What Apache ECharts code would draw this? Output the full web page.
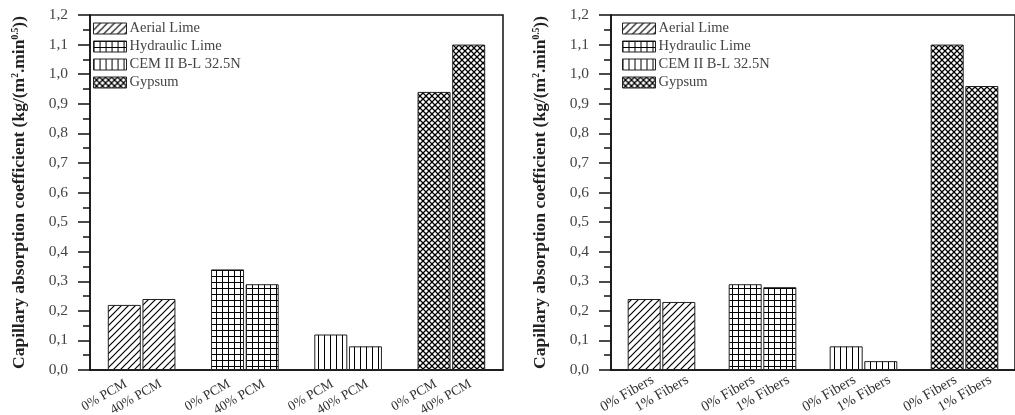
<!DOCTYPE html>
<html>
<head>
<meta charset="utf-8">
<script src="https://cdn.jsdelivr.net/npm/echarts@6/dist/echarts.min.js"></script>
<style>html,body{margin:0;padding:0;background:#fff}#c{width:1015px;height:415px}</style>
</head>
<body>
<div id="c"></div>
<script>
// ---------- data ----------
const materials = ['Aerial Lime', 'Hydraulic Lime', 'CEM II B-L 32.5N', 'Gypsum'];
const leftTickLabels = ['0% PCM', '40% PCM'];
const rightTickLabels = ['0% Fibers', '1% Fibers'];
const pcm0 = [0.22, 0.34, 0.12, 0.94];
const pcm40 = [0.24, 0.29, 0.08, 1.10];
const fib0 = [0.24, 0.29, 0.08, 1.10];
const fib1 = [0.23, 0.28, 0.03, 0.96];
const yTicks = { min: 0, max: 1.2, interval: 0.1 };

// ---------- patterns ----------
function makePattern(w, h, draw) {
  const c = document.createElement('canvas');
  c.width = w; c.height = h;
  const ctx = c.getContext('2d');
  ctx.fillStyle = '#fff'; ctx.fillRect(0, 0, w, h);
  ctx.strokeStyle = '#000'; ctx.lineWidth = 1.2;
  draw(ctx, w, h);
  return { image: c, repeat: 'repeat' };
}
function diag(ctx, w, h, dir) {
  ctx.beginPath();
  for (let k = -2; k <= 2; k++) {
    if (dir > 0) { ctx.moveTo(k * w - 1, h + 1); ctx.lineTo(k * w + w + 1, -1); }
    else { ctx.moveTo(k * w - 1, -1); ctx.lineTo(k * w + w + 1, h + 1); }
  }
  ctx.stroke();
}
const patterns = [
  makePattern(7, 7, (ctx, w, h) => { diag(ctx, w, h, 1); }),
  makePattern(6, 6, (ctx, w, h) => {
    ctx.lineWidth = 1;
    ctx.beginPath(); ctx.moveTo(0.5, 0); ctx.lineTo(0.5, h); ctx.moveTo(0, 0.5); ctx.lineTo(w, 0.5); ctx.stroke();
  }),
  makePattern(6, 6, (ctx, w, h) => {
    ctx.lineWidth = 1;
    ctx.beginPath(); ctx.moveTo(0.5, 0); ctx.lineTo(0.5, h); ctx.stroke();
  }),
  makePattern(6, 6, (ctx, w, h) => { ctx.lineWidth = 1.25; diag(ctx, w, h, 1); diag(ctx, w, h, -1); })
];

const serif = 'Liberation Serif, Times New Roman, serif';
const fmt = v => v.toFixed(1).replace('.', ',');

function yAxisCfg(gridIndex) {
  return {
    type: 'value', gridIndex: gridIndex,
    min: yTicks.min, max: yTicks.max, interval: yTicks.interval,
    name: '{b|Capillary absorption coefficient (kg/(m}{s|2}{b|.min}{s|0.5}{b|))}',
    nameLocation: 'middle', nameGap: 61,
    nameTextStyle: {
      rich: {
        b: { fontFamily: serif, fontWeight: 'bold', fontSize: 17.5, color: '#222', lineHeight: 19 },
        s: { fontFamily: serif, fontWeight: 'bold', fontSize: 9.5, color: '#222', lineHeight: 19, padding: [0, 0, 8, 0] }
      }
    },
    axisLine: { show: true, lineStyle: { color: '#111', width: 1.5 } },
    axisTick: { show: true, length: 12, lineStyle: { color: '#111', width: 1.5 } },
    minorTick: { show: true, splitNumber: 2, length: 7, lineStyle: { color: '#111', width: 1.5 } },
    axisLabel: { formatter: fmt, fontFamily: serif, fontSize: 15.5, color: '#444', margin: 22 },
    splitLine: { show: false }
  };
}
function xAxisCfg(gridIndex) {
  return {
    type: 'category', gridIndex: gridIndex, data: materials,
    axisLine: { show: true, onZero: false, lineStyle: { color: '#111', width: 1.5 } },
    axisTick: { show: false }, axisLabel: { show: false }, splitLine: { show: false }
  };
}
function seriesFor(gridIndex, values, stackName, labelText, offsetX, fs) {
  return materials.map((m, i) => ({
    type: 'bar', name: m, xAxisIndex: gridIndex, yAxisIndex: gridIndex,
    stack: stackName, barWidth: 33, barGap: '5%',
    data: materials.map((_, j) => (j === i ? values[j] : '-')),
    itemStyle: { color: patterns[i], borderColor: '#222', borderWidth: 1 },
    label: {
      show: true, position: 'bottom', distance: 0, rotate: 30,
      align: 'right', verticalAlign: 'middle', offset: [offsetX, 12],
      formatter: () => labelText,
      fontFamily: serif, fontSize: fs, color: '#333'
    },
    emphasis: { disabled: true }
  }));
}

let series = [];
const l0 = seriesFor(0, pcm0, 'L0', leftTickLabels[0], -5, 13.5);
const l1 = seriesFor(0, pcm40, 'L40', leftTickLabels[1], -5, 13.5);
const r0 = seriesFor(1, fib0, 'R0', rightTickLabels[0], 3, 14.5);
const r1 = seriesFor(1, fib1, 'R1', rightTickLabels[1], 3, 14.5);
for (let i = 0; i < 4; i++) { series.push(l0[i], l1[i]); }
for (let i = 0; i < 4; i++) { series.push(r0[i], r1[i]); }

function legendCfg(left) {
  return {
    orient: 'vertical', left: left, top: 21, padding: 0, icon: 'rect',
    itemWidth: 33, itemHeight: 11, itemGap: 3, data: materials,
    selectedMode: false,
    itemStyle: { borderColor: '#222', borderWidth: 1 },
    textStyle: { fontFamily: serif, fontSize: 14.5, color: '#444', lineHeight: 15, padding: [0, 0, 0, -2] }
  };
}

const chart = echarts.init(document.getElementById('c'), null, { renderer: 'canvas' });
chart.setOption({
  animation: false,
  backgroundColor: '#fff',
  grid: [
    { left: 90, top: 15, width: 413, height: 355, show: true, borderColor: '#111', borderWidth: 1.5, backgroundColor: 'transparent' },
    { left: 611, top: 15, width: 414, height: 355, show: true, borderColor: '#111', borderWidth: 1.5, backgroundColor: 'transparent' }
  ],
  legend: [legendCfg(93), legendCfg(622)],
  xAxis: [xAxisCfg(0), xAxisCfg(1)],
  yAxis: [yAxisCfg(0), yAxisCfg(1)],
  series: series
});
</script>
</body>
</html>
